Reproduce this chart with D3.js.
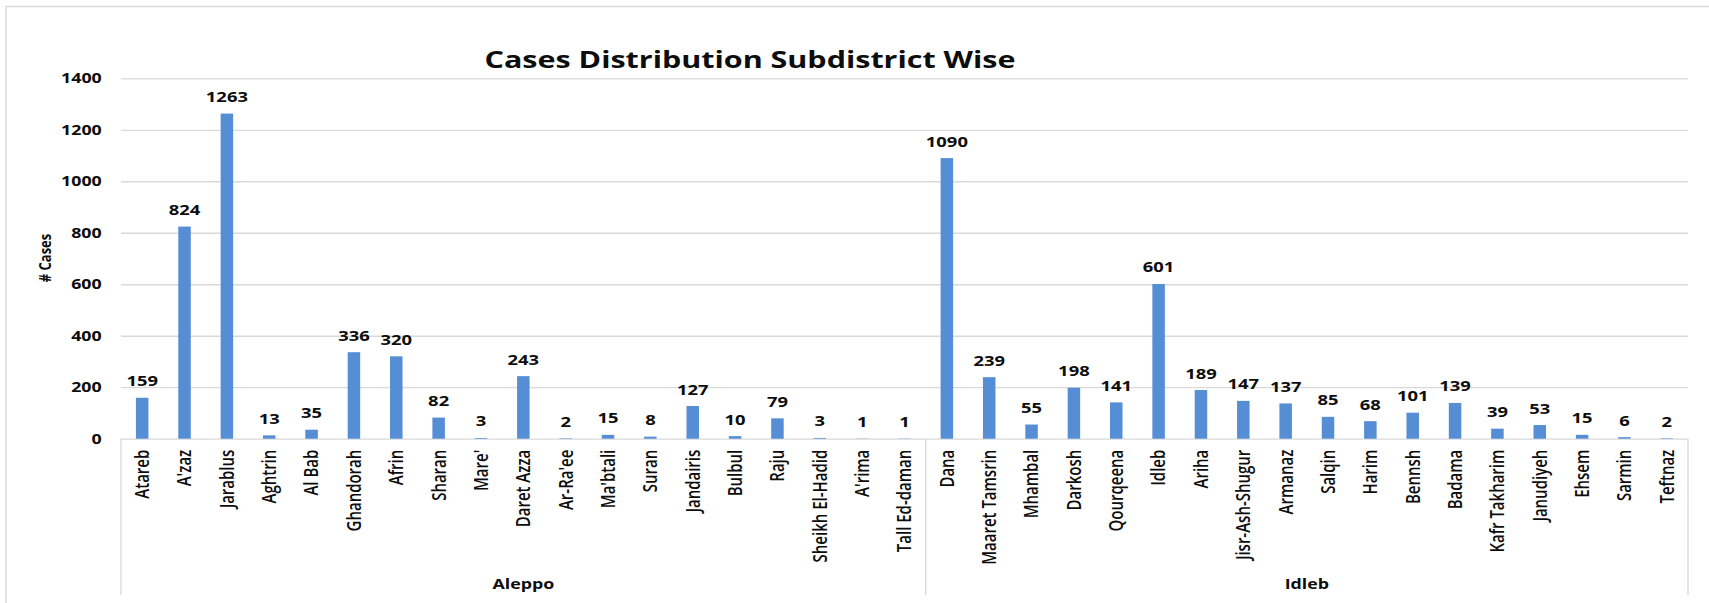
<!DOCTYPE html>
<html>
<head>
<meta charset="utf-8">
<script src="https://cdn.jsdelivr.net/npm/d3@7"></script>
<style>
  html, body { margin: 0; padding: 0; background: #ffffff; }
  svg { display: block; }
  text { font-family: "Open Sans", "Noto Sans", sans-serif; fill: #0d0d0d; }
</style>
</head>
<body>
<svg id="chart" width="1709" height="603"></svg>
<script>
// Subdistricts and reported cases, per governorate
const aleppoSubdistricts = ["Atareb", "A'zaz", "Jarablus", "Aghtrin", "Al Bab", "Ghandorah", "Afrin", "Sharan", "Mare'", "Daret Azza", "Ar-Ra'ee", "Ma'btali", "Suran", "Jandairis", "Bulbul", "Raju", "Sheikh El-Hadid", "A'rima", "Tall Ed-daman"];
const aleppoCases = [159, 824, 1263, 13, 35, 336, 320, 82, 3, 243, 2, 15, 8, 127, 10, 79, 3, 1, 1];

const idlebSubdistricts = ["Dana", "Maaret Tamsrin", "Mhambal", "Darkosh", "Qourqeena", "Idleb", "Ariha", "Jisr-Ash-Shugur", "Armanaz", "Salqin", "Harim", "Bennsh", "Badama", "Kafr Takharim", "Janudiyeh", "Ehsem", "Sarmin", "Teftnaz"];
const idlebCases = [1090, 239, 55, 198, 141, 601, 189, 147, 137, 85, 68, 101, 139, 39, 53, 15, 6, 2];

const governorates = ["Aleppo", "Idleb"];
const yTicks = [0, 200, 400, 600, 800, 1000, 1200, 1400];

const titleText = "Cases Distribution Subdistrict Wise";
const yTitle = "# Cases";

// Table of rows built from the arrays above
const rows = [
  ...aleppoSubdistricts.map((n, i) => ({ group: "Aleppo", name: n, value: aleppoCases[i] })),
  ...idlebSubdistricts.map((n, i) => ({ group: "Idleb", name: n, value: idlebCases[i] }))
];

// Layout
const plotLeft = 121, plotRight = 1688, plotTop = 78.3, plotBottom = 438.7, axisFoot = 595;
const SX = 1.27;            // horizontal text stretch
const barColor = "#558ED5";
const gridColor = "#d9d9d9";

const svg = d3.select("#chart");

// Outer chart frame
svg.append("rect")
  .attr("x", 6).attr("y", 6.5)
  .attr("width", 1720).attr("height", 620)
  .attr("fill", "none").attr("stroke", gridColor).attr("stroke-width", 1.5);

const x = d3.scaleBand()
  .domain(rows.map(d => d.name))
  .range([plotLeft, plotRight])
  .paddingInner(0.705)
  .paddingOuter(0.3525);

const y = d3.scaleLinear().domain([0, 1400]).range([plotBottom, plotTop]);

// Y axis with horizontal gridlines
const yAxis = svg.append("g")
  .attr("transform", `translate(${plotLeft},0)`)
  .call(d3.axisLeft(y)
    .tickValues(yTicks)
    .tickFormat(d3.format("d"))
    .tickSize(-(plotRight - plotLeft))
    .tickPadding(15.2));
yAxis.select(".domain").remove();
yAxis.selectAll(".tick line").attr("stroke", gridColor).attr("stroke-width", 1.3);
yAxis.selectAll(".tick text")
  .attr("transform", `scale(${SX},1)`)
  .style("font-family", '"Open Sans", sans-serif')
  .style("font-size", "14px")
  .style("font-weight", "700")
  .attr("fill", "#0d0d0d");

// Vertical separators below the axis: left edge, between governorates, right edge
const step = x.step();
const groupBounds = [];
let startIndex = 0;
governorates.forEach(g => {
  const n = rows.filter(d => d.group === g).length;
  groupBounds.push({ group: g, x0: plotLeft + startIndex * step, x1: plotLeft + (startIndex + n) * step });
  startIndex += n;
});
const sepXs = [plotLeft, ...groupBounds.map(b => b.x1)];
svg.append("g").selectAll("line").data(sepXs).join("line")
  .attr("x1", d => d).attr("x2", d => d)
  .attr("y1", plotBottom).attr("y2", axisFoot)
  .attr("stroke", gridColor).attr("stroke-width", 1.3);

// Bars
svg.append("g").selectAll("rect").data(rows).join("rect")
  .attr("x", d => x(d.name))
  .attr("y", d => y(d.value))
  .attr("width", x.bandwidth())
  .attr("height", d => y(0) - y(d.value))
  .attr("fill", barColor);

// Value labels
svg.append("g").selectAll("text").data(rows).join("text")
  .attr("transform", d => `translate(${x(d.name) + x.bandwidth() / 2},${y(d.value) - 11.5}) scale(${SX},1)`)
  .attr("text-anchor", "middle")
  .style("font-size", "14.5px")
  .style("font-weight", "700")
  .text(d => d.value);

// Category labels, rotated
svg.append("g").selectAll("text").data(rows).join("text")
  .attr("transform", d => `translate(${x(d.name) + x.bandwidth() / 2},${plotBottom + 11}) scale(${SX},1) rotate(-90)`)
  .attr("text-anchor", "end")
  .attr("dy", "0.36em")
  .style("font-size", "15px")
  .style("font-weight", "600")
  .text(d => d.name);

// Governorate labels
svg.append("g").selectAll("text").data(groupBounds).join("text")
  .attr("transform", d => `translate(${(d.x0 + d.x1) / 2},589) scale(${SX},1)`)
  .attr("text-anchor", "middle")
  .style("font-size", "14px")
  .style("font-weight", "700")
  .text(d => d.group);

// Y axis title
svg.append("text")
  .attr("transform", `translate(45,258) scale(${SX},1) rotate(-90)`)
  .attr("text-anchor", "middle")
  .attr("dy", "0.36em")
  .style("font-size", "13px")
  .style("font-weight", "700")
  .text(yTitle);

// Chart title
svg.append("text")
  .attr("transform", `translate(750,68) scale(${SX},1)`)
  .attr("text-anchor", "middle")
  .style("font-size", "24px")
  .style("font-weight", "700")
  .text(titleText);
</script>
</body>
</html>
